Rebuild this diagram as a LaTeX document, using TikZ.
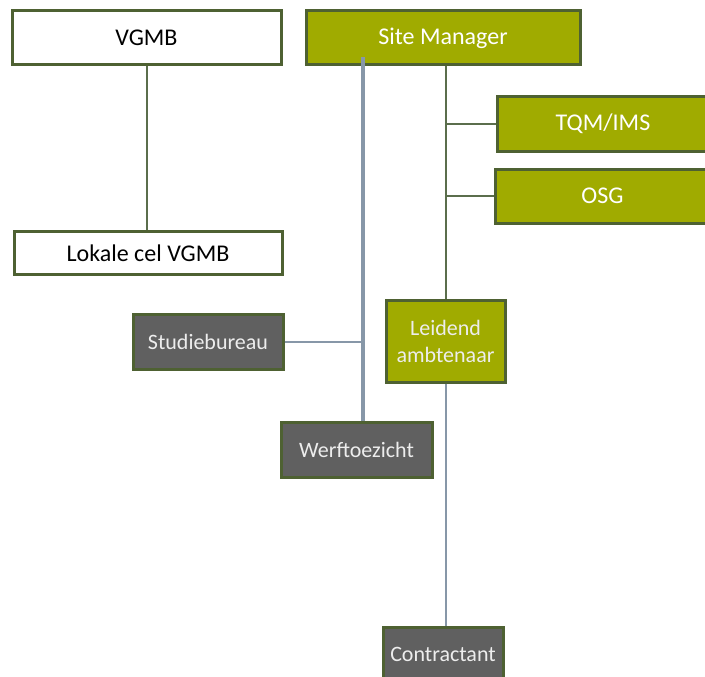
\documentclass[tikz,border=0pt]{standalone}
\usepackage{fontspec}
\setmainfont{Carlito}
\definecolor{frame}{HTML}{4E6132}
\definecolor{olive}{HTML}{A0AB00}
\definecolor{slate}{HTML}{606060}
\definecolor{steel}{HTML}{8797A8}
\definecolor{twig}{HTML}{5B6E4C}
\definecolor{paletext}{HTML}{EDEDED}
\tikzset{
  box/.style={draw=frame, line width=3pt, rectangle, inner sep=0pt, align=center},
  whitebox/.style={box, fill=white, text=black, font=\fontsize{24}{28}\selectfont},
  olivebox/.style={box, fill=olive, text=white, font=\fontsize{24}{28}\selectfont},
  olivesmall/.style={box, fill=olive, text=paletext, font=\fontsize{22}{27}\selectfont},
  greybox/.style={box, fill=slate, text=paletext, font=\fontsize{22}{26}\selectfont},
  branch/.style={draw=twig, line width=2pt},
  staff/.style={draw=steel, line width=2pt},
  staffmain/.style={draw=steel, line width=3.2pt},
}
\begin{document}
\begin{tikzpicture}[x=1pt,y=-1pt]
\useasboundingbox (0,0) rectangle (705,677);
\clip (0,0) rectangle (705,677);

% boxes
\node[whitebox, minimum width=269pt, minimum height=54pt] (vgmb) at (146.5,38) {VGMB};
\node[whitebox, minimum width=268pt, minimum height=43pt] (lokale) at (148,253) {Lokale cel VGMB};
\node[olivebox, minimum width=274pt, minimum height=54pt] (site) at (443,38) {Site Manager};
\node[olivebox, minimum width=212pt, minimum height=54pt] (tqm) at (603,124) {TQM/IMS};
\node[olivebox, minimum width=215pt, minimum height=54pt] (osg) at (602.5,196) {OSG};
\node[olivesmall, minimum width=119pt, minimum height=82pt] (leid) at (445.5,341) {Leidend\\ambtenaar};
\node[greybox, minimum width=150pt, minimum height=55pt] (studie) at (208,341.5) {Studiebureau};
\node[greybox, minimum width=151pt, minimum height=55pt] (werf) at (356.5,449.5) {Werftoezicht};
\node[greybox, minimum width=120pt, minimum height=55pt] (contr) at (443,654.5) {Contractant};

% line hierarchy
\draw[branch] (vgmb.south) -- (vgmb.south |- lokale.north);
\draw[branch] (leid.north) -- (leid.north |- site.south);
\draw[branch] (tqm.west) -- (tqm.west -| leid.north);
\draw[branch] (osg.west) -- (osg.west -| leid.north);
\draw[staff] (leid.south) -- (leid.south |- contr.north);

% staff line
\coordinate (tap) at (363,57);
\draw[staffmain] (tap) -- (tap |- werf.north);
\draw[staff] (studie.east) -- (studie.east -| tap);
\end{tikzpicture}
\end{document}
